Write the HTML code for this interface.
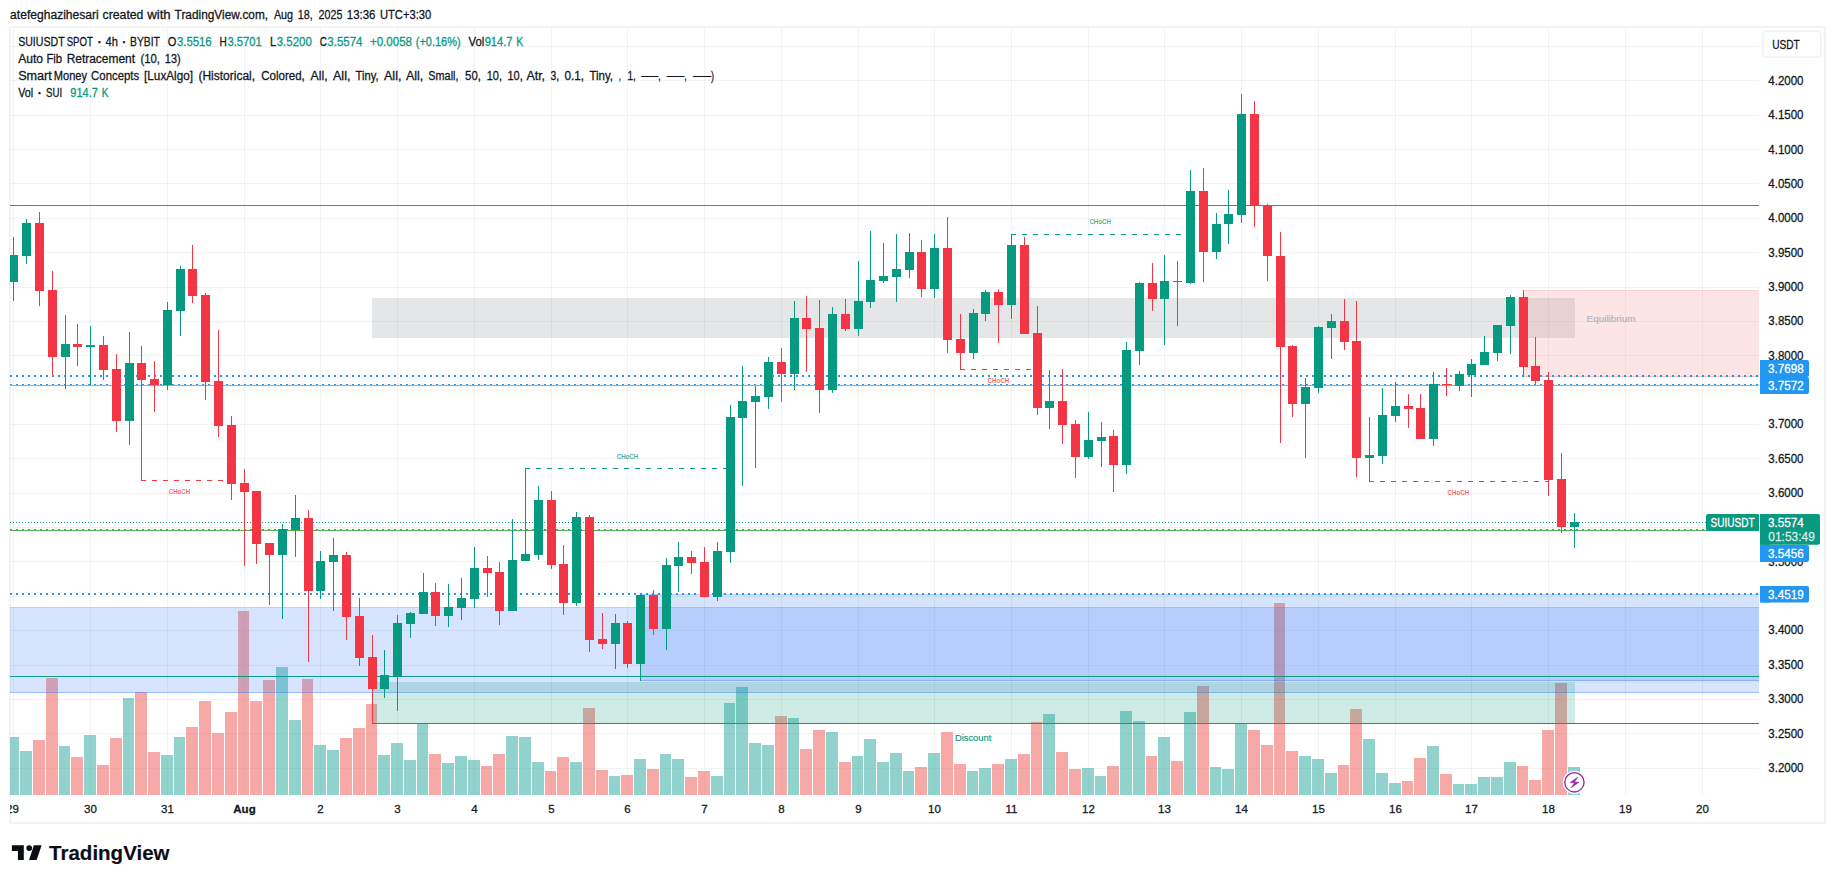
<!DOCTYPE html>
<html lang="en"><head><meta charset="utf-8"><title>SUIUSDT chart</title>
<style>html,body{margin:0;padding:0;background:#fff;overflow:hidden}svg{display:block}text{font-family:"Liberation Sans",sans-serif;fill:#131722;stroke:#131722;stroke-width:.28px}</style></head><body>
<svg width="1835" height="883" viewBox="0 0 1835 883">
<rect width="1835" height="883" fill="#fff"/>
<g fill="#f3f3f4" shape-rendering="crispEdges">
<rect x="9" y="26" width="1817" height="2"/>
<rect x="9" y="822" width="1817" height="2"/>
<rect x="9" y="26" width="2" height="798"/>
<rect x="1824" y="26" width="2" height="798"/>
</g>
<defs><clipPath id="pane"><rect x="10" y="28" width="1749" height="767"/></clipPath></defs>
<g fill="rgba(42,56,57,0.058)" shape-rendering="crispEdges">
<rect x="13" y="28" width="1" height="767"/>
<rect x="90" y="28" width="1" height="767"/>
<rect x="167" y="28" width="1" height="767"/>
<rect x="244" y="28" width="1" height="767"/>
<rect x="320" y="28" width="1" height="767"/>
<rect x="397" y="28" width="1" height="767"/>
<rect x="474" y="28" width="1" height="767"/>
<rect x="551" y="28" width="1" height="767"/>
<rect x="627" y="28" width="1" height="767"/>
<rect x="704" y="28" width="1" height="767"/>
<rect x="781" y="28" width="1" height="767"/>
<rect x="858" y="28" width="1" height="767"/>
<rect x="934" y="28" width="1" height="767"/>
<rect x="1011" y="28" width="1" height="767"/>
<rect x="1088" y="28" width="1" height="767"/>
<rect x="1164" y="28" width="1" height="767"/>
<rect x="1241" y="28" width="1" height="767"/>
<rect x="1318" y="28" width="1" height="767"/>
<rect x="1395" y="28" width="1" height="767"/>
<rect x="1471" y="28" width="1" height="767"/>
<rect x="1548" y="28" width="1" height="767"/>
<rect x="1625" y="28" width="1" height="767"/>
<rect x="1702" y="28" width="1" height="767"/>
<rect x="10" y="46" width="1749" height="1"/>
<rect x="10" y="80" width="1749" height="1"/>
<rect x="10" y="115" width="1749" height="1"/>
<rect x="10" y="149" width="1749" height="1"/>
<rect x="10" y="183" width="1749" height="1"/>
<rect x="10" y="218" width="1749" height="1"/>
<rect x="10" y="252" width="1749" height="1"/>
<rect x="10" y="287" width="1749" height="1"/>
<rect x="10" y="321" width="1749" height="1"/>
<rect x="10" y="355" width="1749" height="1"/>
<rect x="10" y="390" width="1749" height="1"/>
<rect x="10" y="424" width="1749" height="1"/>
<rect x="10" y="458" width="1749" height="1"/>
<rect x="10" y="493" width="1749" height="1"/>
<rect x="10" y="527" width="1749" height="1"/>
<rect x="10" y="561" width="1749" height="1"/>
<rect x="10" y="596" width="1749" height="1"/>
<rect x="10" y="630" width="1749" height="1"/>
<rect x="10" y="665" width="1749" height="1"/>
<rect x="10" y="699" width="1749" height="1"/>
<rect x="10" y="733" width="1749" height="1"/>
<rect x="10" y="768" width="1749" height="1"/>
</g>
<g clip-path="url(#pane)">
<g shape-rendering="crispEdges">
<rect x="7" y="737" width="12" height="58" fill="rgba(38,166,154,0.5)"/>
<rect x="20" y="751" width="12" height="44" fill="rgba(38,166,154,0.5)"/>
<rect x="33" y="740" width="12" height="55" fill="rgba(239,83,80,0.5)"/>
<rect x="46" y="678" width="12" height="117" fill="rgba(239,83,80,0.5)"/>
<rect x="59" y="746" width="11" height="49" fill="rgba(38,166,154,0.5)"/>
<rect x="71" y="757" width="12" height="38" fill="rgba(239,83,80,0.5)"/>
<rect x="84" y="735" width="12" height="60" fill="rgba(38,166,154,0.5)"/>
<rect x="97" y="765" width="12" height="30" fill="rgba(239,83,80,0.5)"/>
<rect x="110" y="738" width="12" height="57" fill="rgba(239,83,80,0.5)"/>
<rect x="123" y="698" width="11" height="97" fill="rgba(38,166,154,0.5)"/>
<rect x="135" y="692" width="12" height="103" fill="rgba(239,83,80,0.5)"/>
<rect x="148" y="752" width="12" height="43" fill="rgba(239,83,80,0.5)"/>
<rect x="161" y="755" width="12" height="40" fill="rgba(38,166,154,0.5)"/>
<rect x="174" y="737" width="11" height="58" fill="rgba(38,166,154,0.5)"/>
<rect x="186" y="727" width="12" height="68" fill="rgba(239,83,80,0.5)"/>
<rect x="199" y="701" width="12" height="94" fill="rgba(239,83,80,0.5)"/>
<rect x="212" y="733" width="12" height="62" fill="rgba(239,83,80,0.5)"/>
<rect x="225" y="712" width="12" height="83" fill="rgba(239,83,80,0.5)"/>
<rect x="238" y="611" width="11" height="184" fill="rgba(239,83,80,0.5)"/>
<rect x="250" y="701" width="12" height="94" fill="rgba(239,83,80,0.5)"/>
<rect x="263" y="680" width="12" height="115" fill="rgba(239,83,80,0.5)"/>
<rect x="276" y="667" width="12" height="128" fill="rgba(38,166,154,0.5)"/>
<rect x="289" y="720" width="12" height="75" fill="rgba(38,166,154,0.5)"/>
<rect x="302" y="679" width="11" height="116" fill="rgba(239,83,80,0.5)"/>
<rect x="314" y="745" width="12" height="50" fill="rgba(38,166,154,0.5)"/>
<rect x="327" y="750" width="12" height="45" fill="rgba(38,166,154,0.5)"/>
<rect x="340" y="738" width="12" height="57" fill="rgba(239,83,80,0.5)"/>
<rect x="353" y="728" width="12" height="67" fill="rgba(239,83,80,0.5)"/>
<rect x="366" y="704" width="11" height="91" fill="rgba(239,83,80,0.5)"/>
<rect x="378" y="755" width="12" height="40" fill="rgba(38,166,154,0.5)"/>
<rect x="391" y="743" width="12" height="52" fill="rgba(38,166,154,0.5)"/>
<rect x="404" y="760" width="12" height="35" fill="rgba(38,166,154,0.5)"/>
<rect x="417" y="723" width="11" height="72" fill="rgba(38,166,154,0.5)"/>
<rect x="429" y="754" width="12" height="41" fill="rgba(239,83,80,0.5)"/>
<rect x="442" y="763" width="12" height="32" fill="rgba(38,166,154,0.5)"/>
<rect x="455" y="756" width="12" height="39" fill="rgba(38,166,154,0.5)"/>
<rect x="468" y="760" width="12" height="35" fill="rgba(38,166,154,0.5)"/>
<rect x="481" y="766" width="11" height="29" fill="rgba(239,83,80,0.5)"/>
<rect x="493" y="754" width="12" height="41" fill="rgba(239,83,80,0.5)"/>
<rect x="506" y="736" width="12" height="59" fill="rgba(38,166,154,0.5)"/>
<rect x="519" y="737" width="12" height="58" fill="rgba(38,166,154,0.5)"/>
<rect x="532" y="762" width="12" height="33" fill="rgba(38,166,154,0.5)"/>
<rect x="545" y="771" width="11" height="24" fill="rgba(239,83,80,0.5)"/>
<rect x="557" y="757" width="12" height="38" fill="rgba(239,83,80,0.5)"/>
<rect x="570" y="762" width="12" height="33" fill="rgba(38,166,154,0.5)"/>
<rect x="583" y="708" width="12" height="87" fill="rgba(239,83,80,0.5)"/>
<rect x="596" y="770" width="12" height="25" fill="rgba(239,83,80,0.5)"/>
<rect x="609" y="776" width="11" height="19" fill="rgba(38,166,154,0.5)"/>
<rect x="621" y="775" width="12" height="20" fill="rgba(239,83,80,0.5)"/>
<rect x="634" y="759" width="12" height="36" fill="rgba(38,166,154,0.5)"/>
<rect x="647" y="769" width="12" height="26" fill="rgba(239,83,80,0.5)"/>
<rect x="660" y="754" width="11" height="41" fill="rgba(38,166,154,0.5)"/>
<rect x="672" y="759" width="12" height="36" fill="rgba(38,166,154,0.5)"/>
<rect x="685" y="777" width="12" height="18" fill="rgba(239,83,80,0.5)"/>
<rect x="698" y="771" width="12" height="24" fill="rgba(239,83,80,0.5)"/>
<rect x="711" y="776" width="12" height="19" fill="rgba(38,166,154,0.5)"/>
<rect x="724" y="703" width="11" height="92" fill="rgba(38,166,154,0.5)"/>
<rect x="736" y="687" width="12" height="108" fill="rgba(38,166,154,0.5)"/>
<rect x="749" y="743" width="12" height="52" fill="rgba(38,166,154,0.5)"/>
<rect x="762" y="745" width="12" height="50" fill="rgba(38,166,154,0.5)"/>
<rect x="775" y="716" width="12" height="79" fill="rgba(239,83,80,0.5)"/>
<rect x="788" y="718" width="11" height="77" fill="rgba(38,166,154,0.5)"/>
<rect x="800" y="749" width="12" height="46" fill="rgba(239,83,80,0.5)"/>
<rect x="813" y="730" width="12" height="65" fill="rgba(239,83,80,0.5)"/>
<rect x="826" y="732" width="12" height="63" fill="rgba(38,166,154,0.5)"/>
<rect x="839" y="762" width="12" height="33" fill="rgba(239,83,80,0.5)"/>
<rect x="852" y="756" width="11" height="39" fill="rgba(38,166,154,0.5)"/>
<rect x="864" y="739" width="12" height="56" fill="rgba(38,166,154,0.5)"/>
<rect x="877" y="762" width="12" height="33" fill="rgba(38,166,154,0.5)"/>
<rect x="890" y="753" width="12" height="42" fill="rgba(38,166,154,0.5)"/>
<rect x="903" y="771" width="11" height="24" fill="rgba(38,166,154,0.5)"/>
<rect x="915" y="767" width="12" height="28" fill="rgba(239,83,80,0.5)"/>
<rect x="928" y="753" width="12" height="42" fill="rgba(38,166,154,0.5)"/>
<rect x="941" y="732" width="12" height="63" fill="rgba(239,83,80,0.5)"/>
<rect x="954" y="764" width="12" height="31" fill="rgba(239,83,80,0.5)"/>
<rect x="967" y="771" width="11" height="24" fill="rgba(38,166,154,0.5)"/>
<rect x="979" y="768" width="12" height="27" fill="rgba(38,166,154,0.5)"/>
<rect x="992" y="764" width="12" height="31" fill="rgba(239,83,80,0.5)"/>
<rect x="1005" y="759" width="12" height="36" fill="rgba(38,166,154,0.5)"/>
<rect x="1018" y="754" width="12" height="41" fill="rgba(239,83,80,0.5)"/>
<rect x="1031" y="722" width="11" height="73" fill="rgba(239,83,80,0.5)"/>
<rect x="1043" y="714" width="12" height="81" fill="rgba(38,166,154,0.5)"/>
<rect x="1056" y="752" width="12" height="43" fill="rgba(239,83,80,0.5)"/>
<rect x="1069" y="769" width="12" height="26" fill="rgba(239,83,80,0.5)"/>
<rect x="1082" y="768" width="12" height="27" fill="rgba(38,166,154,0.5)"/>
<rect x="1095" y="776" width="11" height="19" fill="rgba(38,166,154,0.5)"/>
<rect x="1107" y="766" width="12" height="29" fill="rgba(239,83,80,0.5)"/>
<rect x="1120" y="711" width="12" height="84" fill="rgba(38,166,154,0.5)"/>
<rect x="1133" y="721" width="12" height="74" fill="rgba(38,166,154,0.5)"/>
<rect x="1146" y="756" width="11" height="39" fill="rgba(239,83,80,0.5)"/>
<rect x="1158" y="737" width="12" height="58" fill="rgba(38,166,154,0.5)"/>
<rect x="1171" y="761" width="12" height="34" fill="rgba(239,83,80,0.5)"/>
<rect x="1184" y="712" width="12" height="83" fill="rgba(38,166,154,0.5)"/>
<rect x="1197" y="686" width="12" height="109" fill="rgba(239,83,80,0.5)"/>
<rect x="1210" y="767" width="11" height="28" fill="rgba(38,166,154,0.5)"/>
<rect x="1222" y="769" width="12" height="26" fill="rgba(38,166,154,0.5)"/>
<rect x="1235" y="723" width="12" height="72" fill="rgba(38,166,154,0.5)"/>
<rect x="1248" y="730" width="12" height="65" fill="rgba(239,83,80,0.5)"/>
<rect x="1261" y="745" width="12" height="50" fill="rgba(239,83,80,0.5)"/>
<rect x="1274" y="603" width="11" height="192" fill="rgba(239,83,80,0.5)"/>
<rect x="1286" y="751" width="12" height="44" fill="rgba(239,83,80,0.5)"/>
<rect x="1299" y="756" width="12" height="39" fill="rgba(38,166,154,0.5)"/>
<rect x="1312" y="759" width="12" height="36" fill="rgba(38,166,154,0.5)"/>
<rect x="1325" y="773" width="12" height="22" fill="rgba(38,166,154,0.5)"/>
<rect x="1338" y="765" width="11" height="30" fill="rgba(239,83,80,0.5)"/>
<rect x="1350" y="709" width="12" height="86" fill="rgba(239,83,80,0.5)"/>
<rect x="1363" y="739" width="12" height="56" fill="rgba(38,166,154,0.5)"/>
<rect x="1376" y="773" width="12" height="22" fill="rgba(38,166,154,0.5)"/>
<rect x="1389" y="783" width="12" height="12" fill="rgba(38,166,154,0.5)"/>
<rect x="1402" y="781" width="11" height="14" fill="rgba(239,83,80,0.5)"/>
<rect x="1414" y="758" width="12" height="37" fill="rgba(239,83,80,0.5)"/>
<rect x="1427" y="746" width="12" height="49" fill="rgba(38,166,154,0.5)"/>
<rect x="1440" y="774" width="12" height="21" fill="rgba(239,83,80,0.5)"/>
<rect x="1453" y="784" width="11" height="11" fill="rgba(38,166,154,0.5)"/>
<rect x="1465" y="784" width="12" height="11" fill="rgba(38,166,154,0.5)"/>
<rect x="1478" y="777" width="12" height="18" fill="rgba(38,166,154,0.5)"/>
<rect x="1491" y="777" width="12" height="18" fill="rgba(38,166,154,0.5)"/>
<rect x="1504" y="762" width="12" height="33" fill="rgba(38,166,154,0.5)"/>
<rect x="1517" y="766" width="11" height="29" fill="rgba(239,83,80,0.5)"/>
<rect x="1529" y="780" width="12" height="15" fill="rgba(239,83,80,0.5)"/>
<rect x="1542" y="730" width="12" height="65" fill="rgba(239,83,80,0.5)"/>
<rect x="1555" y="683" width="12" height="112" fill="rgba(239,83,80,0.5)"/>
<rect x="1568" y="767" width="12" height="28" fill="rgba(38,166,154,0.5)"/>
</g>
<g shape-rendering="crispEdges">
<rect x="372" y="298" width="1203" height="40" fill="rgba(135,139,148,0.22)"/>
<rect x="1523.5" y="290.5" width="240" height="86" fill="rgba(247,124,128,0.2)" stroke="rgba(247,124,128,0.35)" stroke-width="1"/>
<rect x="0.5" y="607.5" width="1765" height="85" fill="rgba(49,121,245,0.2)" stroke="rgba(49,121,245,0.35)" stroke-width="1"/>
<rect x="640.5" y="594.5" width="1125" height="86" fill="rgba(49,121,245,0.2)" stroke="rgba(49,121,245,0.35)" stroke-width="1"/>
<rect x="372" y="682" width="1203" height="41" fill="rgba(8,153,129,0.2)"/>
</g>
<g shape-rendering="crispEdges">
<rect x="10" y="205" width="1749" height="1" fill="#f44336"/>
<rect x="10" y="676" width="1749" height="1" fill="#0e9a89"/>
<rect x="372" y="723" width="1387" height="1" fill="#0e9a89"/>
<rect x="10" y="385" width="1749" height="1" fill="#7cc47f"/>
<rect x="10" y="530" width="1749" height="1" fill="#52b156"/>
</g>
<line x1="10" x2="1759" y1="376" y2="376" stroke="#2196f3" stroke-width="2" stroke-dasharray="2 4"/>
<line x1="10" x2="1759" y1="594" y2="594" stroke="#2196f3" stroke-width="2" stroke-dasharray="2 4"/>
<line x1="10" x2="1759" y1="384.5" y2="384.5" stroke="#2196f3" stroke-width="1" stroke-dasharray="2 4"/>
<line x1="10" x2="1759" y1="529.5" y2="529.5" stroke="#2196f3" stroke-width="1" stroke-dasharray="2 4"/>
<line x1="10" x2="1706" y1="522.5" y2="522.5" stroke="#089981" stroke-width="1" stroke-dasharray="1 2"/>
<line x1="141" x2="231" y1="480.5" y2="480.5" stroke="#f23645" stroke-width="1" stroke-dasharray="5 6"/>
<line x1="525" x2="729" y1="468.5" y2="468.5" stroke="#089981" stroke-width="1" stroke-dasharray="5 6"/>
<line x1="960" x2="1034" y1="369.5" y2="369.5" stroke="#f23645" stroke-width="1" stroke-dasharray="5 6"/>
<line x1="1011" x2="1186" y1="234.5" y2="234.5" stroke="#089981" stroke-width="1" stroke-dasharray="5 6"/>
<line x1="1369" x2="1549" y1="481.5" y2="481.5" stroke="#f23645" stroke-width="1" stroke-dasharray="5 6"/>
<g shape-rendering="crispEdges">
<rect x="13" y="237" width="1" height="64" fill="#089981"/>
<rect x="9" y="255" width="9" height="27" fill="#089981"/>
<rect x="26" y="219" width="1" height="45" fill="#089981"/>
<rect x="22" y="223" width="9" height="33" fill="#089981"/>
<rect x="39" y="212" width="1" height="94" fill="#f23645"/>
<rect x="35" y="223" width="9" height="68" fill="#f23645"/>
<rect x="52" y="271" width="1" height="105" fill="#f23645"/>
<rect x="48" y="290" width="9" height="67" fill="#f23645"/>
<rect x="65" y="315" width="1" height="74" fill="#089981"/>
<rect x="61" y="344" width="9" height="13" fill="#089981"/>
<rect x="77" y="324" width="1" height="42" fill="#f23645"/>
<rect x="73" y="344" width="9" height="3" fill="#f23645"/>
<rect x="90" y="326" width="1" height="59" fill="#089981"/>
<rect x="86" y="345" width="9" height="2" fill="#089981"/>
<rect x="103" y="336" width="1" height="44" fill="#f23645"/>
<rect x="99" y="345" width="9" height="25" fill="#f23645"/>
<rect x="116" y="354" width="1" height="78" fill="#f23645"/>
<rect x="112" y="369" width="9" height="52" fill="#f23645"/>
<rect x="129" y="332" width="1" height="113" fill="#089981"/>
<rect x="125" y="363" width="9" height="58" fill="#089981"/>
<rect x="141" y="346" width="1" height="135" fill="#f23645"/>
<rect x="137" y="363" width="9" height="17" fill="#f23645"/>
<rect x="154" y="361" width="1" height="51" fill="#f23645"/>
<rect x="150" y="379" width="9" height="6" fill="#f23645"/>
<rect x="167" y="302" width="1" height="88" fill="#089981"/>
<rect x="163" y="310" width="9" height="75" fill="#089981"/>
<rect x="180" y="266" width="1" height="70" fill="#089981"/>
<rect x="176" y="269" width="9" height="42" fill="#089981"/>
<rect x="192" y="245" width="1" height="58" fill="#f23645"/>
<rect x="188" y="269" width="9" height="27" fill="#f23645"/>
<rect x="205" y="293" width="1" height="107" fill="#f23645"/>
<rect x="201" y="295" width="9" height="87" fill="#f23645"/>
<rect x="218" y="330" width="1" height="107" fill="#f23645"/>
<rect x="214" y="381" width="9" height="45" fill="#f23645"/>
<rect x="231" y="416" width="1" height="84" fill="#f23645"/>
<rect x="227" y="425" width="9" height="59" fill="#f23645"/>
<rect x="244" y="469" width="1" height="97" fill="#f23645"/>
<rect x="240" y="483" width="9" height="9" fill="#f23645"/>
<rect x="256" y="491" width="1" height="73" fill="#f23645"/>
<rect x="252" y="491" width="9" height="53" fill="#f23645"/>
<rect x="269" y="543" width="1" height="62" fill="#f23645"/>
<rect x="265" y="543" width="9" height="12" fill="#f23645"/>
<rect x="282" y="524" width="1" height="95" fill="#089981"/>
<rect x="278" y="529" width="9" height="26" fill="#089981"/>
<rect x="295" y="495" width="1" height="62" fill="#089981"/>
<rect x="291" y="518" width="9" height="12" fill="#089981"/>
<rect x="308" y="510" width="1" height="152" fill="#f23645"/>
<rect x="304" y="518" width="9" height="73" fill="#f23645"/>
<rect x="320" y="551" width="1" height="48" fill="#089981"/>
<rect x="316" y="561" width="9" height="30" fill="#089981"/>
<rect x="333" y="538" width="1" height="73" fill="#089981"/>
<rect x="329" y="555" width="9" height="7" fill="#089981"/>
<rect x="346" y="552" width="1" height="88" fill="#f23645"/>
<rect x="342" y="555" width="9" height="62" fill="#f23645"/>
<rect x="359" y="598" width="1" height="68" fill="#f23645"/>
<rect x="355" y="616" width="9" height="42" fill="#f23645"/>
<rect x="372" y="635" width="1" height="88" fill="#f23645"/>
<rect x="368" y="657" width="9" height="32" fill="#f23645"/>
<rect x="384" y="650" width="1" height="48" fill="#089981"/>
<rect x="380" y="675" width="9" height="14" fill="#089981"/>
<rect x="397" y="615" width="1" height="96" fill="#089981"/>
<rect x="393" y="623" width="9" height="53" fill="#089981"/>
<rect x="410" y="612" width="1" height="26" fill="#089981"/>
<rect x="406" y="613" width="9" height="11" fill="#089981"/>
<rect x="423" y="573" width="1" height="41" fill="#089981"/>
<rect x="419" y="592" width="9" height="22" fill="#089981"/>
<rect x="435" y="583" width="1" height="43" fill="#f23645"/>
<rect x="431" y="592" width="9" height="24" fill="#f23645"/>
<rect x="448" y="584" width="1" height="43" fill="#089981"/>
<rect x="444" y="607" width="9" height="9" fill="#089981"/>
<rect x="461" y="578" width="1" height="42" fill="#089981"/>
<rect x="457" y="598" width="9" height="10" fill="#089981"/>
<rect x="474" y="547" width="1" height="61" fill="#089981"/>
<rect x="470" y="568" width="9" height="31" fill="#089981"/>
<rect x="487" y="556" width="1" height="41" fill="#f23645"/>
<rect x="483" y="568" width="9" height="5" fill="#f23645"/>
<rect x="499" y="562" width="1" height="63" fill="#f23645"/>
<rect x="495" y="572" width="9" height="39" fill="#f23645"/>
<rect x="512" y="519" width="1" height="92" fill="#089981"/>
<rect x="508" y="560" width="9" height="51" fill="#089981"/>
<rect x="525" y="468" width="1" height="93" fill="#089981"/>
<rect x="521" y="554" width="9" height="7" fill="#089981"/>
<rect x="538" y="486" width="1" height="74" fill="#089981"/>
<rect x="534" y="500" width="9" height="55" fill="#089981"/>
<rect x="551" y="491" width="1" height="78" fill="#f23645"/>
<rect x="547" y="500" width="9" height="65" fill="#f23645"/>
<rect x="563" y="545" width="1" height="70" fill="#f23645"/>
<rect x="559" y="564" width="9" height="39" fill="#f23645"/>
<rect x="576" y="512" width="1" height="94" fill="#089981"/>
<rect x="572" y="517" width="9" height="86" fill="#089981"/>
<rect x="589" y="515" width="1" height="137" fill="#f23645"/>
<rect x="585" y="517" width="9" height="123" fill="#f23645"/>
<rect x="602" y="613" width="1" height="36" fill="#f23645"/>
<rect x="598" y="639" width="9" height="5" fill="#f23645"/>
<rect x="615" y="614" width="1" height="55" fill="#089981"/>
<rect x="611" y="623" width="9" height="21" fill="#089981"/>
<rect x="627" y="621" width="1" height="47" fill="#f23645"/>
<rect x="623" y="623" width="9" height="41" fill="#f23645"/>
<rect x="640" y="595" width="1" height="86" fill="#089981"/>
<rect x="636" y="595" width="9" height="69" fill="#089981"/>
<rect x="653" y="590" width="1" height="45" fill="#f23645"/>
<rect x="649" y="595" width="9" height="34" fill="#f23645"/>
<rect x="666" y="558" width="1" height="92" fill="#089981"/>
<rect x="662" y="565" width="9" height="64" fill="#089981"/>
<rect x="678" y="542" width="1" height="50" fill="#089981"/>
<rect x="674" y="557" width="9" height="9" fill="#089981"/>
<rect x="691" y="551" width="1" height="23" fill="#f23645"/>
<rect x="687" y="557" width="9" height="6" fill="#f23645"/>
<rect x="704" y="547" width="1" height="50" fill="#f23645"/>
<rect x="700" y="562" width="9" height="35" fill="#f23645"/>
<rect x="717" y="542" width="1" height="59" fill="#089981"/>
<rect x="713" y="551" width="9" height="46" fill="#089981"/>
<rect x="730" y="405" width="1" height="158" fill="#089981"/>
<rect x="726" y="417" width="9" height="135" fill="#089981"/>
<rect x="742" y="366" width="1" height="120" fill="#089981"/>
<rect x="738" y="401" width="9" height="17" fill="#089981"/>
<rect x="755" y="386" width="1" height="82" fill="#089981"/>
<rect x="751" y="396" width="9" height="6" fill="#089981"/>
<rect x="768" y="357" width="1" height="52" fill="#089981"/>
<rect x="764" y="362" width="9" height="35" fill="#089981"/>
<rect x="781" y="348" width="1" height="54" fill="#f23645"/>
<rect x="777" y="362" width="9" height="12" fill="#f23645"/>
<rect x="794" y="301" width="1" height="89" fill="#089981"/>
<rect x="790" y="318" width="9" height="56" fill="#089981"/>
<rect x="806" y="296" width="1" height="76" fill="#f23645"/>
<rect x="802" y="318" width="9" height="11" fill="#f23645"/>
<rect x="819" y="300" width="1" height="113" fill="#f23645"/>
<rect x="815" y="328" width="9" height="62" fill="#f23645"/>
<rect x="832" y="307" width="1" height="86" fill="#089981"/>
<rect x="828" y="314" width="9" height="76" fill="#089981"/>
<rect x="845" y="299" width="1" height="32" fill="#f23645"/>
<rect x="841" y="314" width="9" height="15" fill="#f23645"/>
<rect x="858" y="261" width="1" height="75" fill="#089981"/>
<rect x="854" y="301" width="9" height="28" fill="#089981"/>
<rect x="870" y="231" width="1" height="77" fill="#089981"/>
<rect x="866" y="280" width="9" height="22" fill="#089981"/>
<rect x="883" y="243" width="1" height="40" fill="#089981"/>
<rect x="879" y="276" width="9" height="5" fill="#089981"/>
<rect x="896" y="234" width="1" height="68" fill="#089981"/>
<rect x="892" y="269" width="9" height="8" fill="#089981"/>
<rect x="909" y="233" width="1" height="45" fill="#089981"/>
<rect x="905" y="252" width="9" height="18" fill="#089981"/>
<rect x="921" y="240" width="1" height="57" fill="#f23645"/>
<rect x="917" y="252" width="9" height="37" fill="#f23645"/>
<rect x="934" y="234" width="1" height="64" fill="#089981"/>
<rect x="930" y="248" width="9" height="41" fill="#089981"/>
<rect x="947" y="217" width="1" height="136" fill="#f23645"/>
<rect x="943" y="248" width="9" height="92" fill="#f23645"/>
<rect x="960" y="314" width="1" height="55" fill="#f23645"/>
<rect x="956" y="339" width="9" height="14" fill="#f23645"/>
<rect x="973" y="309" width="1" height="50" fill="#089981"/>
<rect x="969" y="313" width="9" height="40" fill="#089981"/>
<rect x="985" y="290" width="1" height="31" fill="#089981"/>
<rect x="981" y="292" width="9" height="22" fill="#089981"/>
<rect x="998" y="289" width="1" height="54" fill="#f23645"/>
<rect x="994" y="292" width="9" height="13" fill="#f23645"/>
<rect x="1011" y="234" width="1" height="85" fill="#089981"/>
<rect x="1007" y="245" width="9" height="60" fill="#089981"/>
<rect x="1024" y="237" width="1" height="97" fill="#f23645"/>
<rect x="1020" y="245" width="9" height="89" fill="#f23645"/>
<rect x="1037" y="306" width="1" height="109" fill="#f23645"/>
<rect x="1033" y="333" width="9" height="75" fill="#f23645"/>
<rect x="1049" y="370" width="1" height="59" fill="#089981"/>
<rect x="1045" y="401" width="9" height="7" fill="#089981"/>
<rect x="1062" y="369" width="1" height="75" fill="#f23645"/>
<rect x="1058" y="401" width="9" height="24" fill="#f23645"/>
<rect x="1075" y="420" width="1" height="58" fill="#f23645"/>
<rect x="1071" y="424" width="9" height="33" fill="#f23645"/>
<rect x="1088" y="412" width="1" height="47" fill="#089981"/>
<rect x="1084" y="440" width="9" height="17" fill="#089981"/>
<rect x="1101" y="422" width="1" height="45" fill="#089981"/>
<rect x="1097" y="437" width="9" height="4" fill="#089981"/>
<rect x="1113" y="430" width="1" height="62" fill="#f23645"/>
<rect x="1109" y="436" width="9" height="29" fill="#f23645"/>
<rect x="1126" y="342" width="1" height="132" fill="#089981"/>
<rect x="1122" y="350" width="9" height="115" fill="#089981"/>
<rect x="1139" y="282" width="1" height="83" fill="#089981"/>
<rect x="1135" y="283" width="9" height="68" fill="#089981"/>
<rect x="1152" y="263" width="1" height="48" fill="#f23645"/>
<rect x="1148" y="283" width="9" height="16" fill="#f23645"/>
<rect x="1164" y="255" width="1" height="90" fill="#089981"/>
<rect x="1160" y="281" width="9" height="18" fill="#089981"/>
<rect x="1177" y="261" width="1" height="65" fill="#f23645"/>
<rect x="1173" y="281" width="9" height="1" fill="#f23645"/>
<rect x="1190" y="170" width="1" height="114" fill="#089981"/>
<rect x="1186" y="191" width="9" height="92" fill="#089981"/>
<rect x="1203" y="168" width="1" height="114" fill="#f23645"/>
<rect x="1199" y="191" width="9" height="61" fill="#f23645"/>
<rect x="1216" y="213" width="1" height="46" fill="#089981"/>
<rect x="1212" y="224" width="9" height="28" fill="#089981"/>
<rect x="1228" y="190" width="1" height="54" fill="#089981"/>
<rect x="1224" y="214" width="9" height="10" fill="#089981"/>
<rect x="1241" y="94" width="1" height="129" fill="#089981"/>
<rect x="1237" y="114" width="9" height="101" fill="#089981"/>
<rect x="1254" y="101" width="1" height="126" fill="#f23645"/>
<rect x="1250" y="114" width="9" height="92" fill="#f23645"/>
<rect x="1267" y="204" width="1" height="77" fill="#f23645"/>
<rect x="1263" y="205" width="9" height="51" fill="#f23645"/>
<rect x="1280" y="232" width="1" height="211" fill="#f23645"/>
<rect x="1276" y="256" width="9" height="91" fill="#f23645"/>
<rect x="1292" y="345" width="1" height="72" fill="#f23645"/>
<rect x="1288" y="346" width="9" height="58" fill="#f23645"/>
<rect x="1305" y="378" width="1" height="80" fill="#089981"/>
<rect x="1301" y="387" width="9" height="17" fill="#089981"/>
<rect x="1318" y="326" width="1" height="67" fill="#089981"/>
<rect x="1314" y="327" width="9" height="61" fill="#089981"/>
<rect x="1331" y="314" width="1" height="45" fill="#089981"/>
<rect x="1327" y="321" width="9" height="7" fill="#089981"/>
<rect x="1344" y="299" width="1" height="51" fill="#f23645"/>
<rect x="1340" y="321" width="9" height="21" fill="#f23645"/>
<rect x="1356" y="301" width="1" height="176" fill="#f23645"/>
<rect x="1352" y="341" width="9" height="117" fill="#f23645"/>
<rect x="1369" y="417" width="1" height="64" fill="#089981"/>
<rect x="1365" y="455" width="9" height="3" fill="#089981"/>
<rect x="1382" y="388" width="1" height="76" fill="#089981"/>
<rect x="1378" y="415" width="9" height="41" fill="#089981"/>
<rect x="1395" y="382" width="1" height="40" fill="#089981"/>
<rect x="1391" y="406" width="9" height="10" fill="#089981"/>
<rect x="1408" y="394" width="1" height="34" fill="#f23645"/>
<rect x="1404" y="406" width="9" height="3" fill="#f23645"/>
<rect x="1420" y="394" width="1" height="45" fill="#f23645"/>
<rect x="1416" y="408" width="9" height="31" fill="#f23645"/>
<rect x="1433" y="372" width="1" height="74" fill="#089981"/>
<rect x="1429" y="384" width="9" height="55" fill="#089981"/>
<rect x="1446" y="368" width="1" height="28" fill="#f23645"/>
<rect x="1442" y="384" width="9" height="1" fill="#f23645"/>
<rect x="1459" y="371" width="1" height="20" fill="#089981"/>
<rect x="1455" y="374" width="9" height="12" fill="#089981"/>
<rect x="1471" y="359" width="1" height="38" fill="#089981"/>
<rect x="1467" y="364" width="9" height="11" fill="#089981"/>
<rect x="1484" y="336" width="1" height="29" fill="#089981"/>
<rect x="1480" y="352" width="9" height="13" fill="#089981"/>
<rect x="1497" y="325" width="1" height="36" fill="#089981"/>
<rect x="1493" y="325" width="9" height="28" fill="#089981"/>
<rect x="1510" y="295" width="1" height="59" fill="#089981"/>
<rect x="1506" y="297" width="9" height="29" fill="#089981"/>
<rect x="1523" y="290" width="1" height="86" fill="#f23645"/>
<rect x="1519" y="297" width="9" height="70" fill="#f23645"/>
<rect x="1535" y="337" width="1" height="47" fill="#f23645"/>
<rect x="1531" y="366" width="9" height="15" fill="#f23645"/>
<rect x="1548" y="372" width="1" height="124" fill="#f23645"/>
<rect x="1544" y="380" width="9" height="100" fill="#f23645"/>
<rect x="1561" y="453" width="1" height="80" fill="#f23645"/>
<rect x="1557" y="479" width="9" height="48" fill="#f23645"/>
<rect x="1574" y="513" width="1" height="35" fill="#089981"/>
<rect x="1570" y="522" width="9" height="5" fill="#089981"/>
</g>
<text x="179.5" y="494" text-anchor="middle" font-size="6.6" font-weight="bold" style="fill:rgba(242,54,69,0.78);stroke:none" textLength="21.6" lengthAdjust="spacingAndGlyphs">CHoCH</text>
<text x="627.5" y="459" text-anchor="middle" font-size="6.6" font-weight="bold" style="fill:rgba(8,153,129,0.78);stroke:none" textLength="21.6" lengthAdjust="spacingAndGlyphs">CHoCH</text>
<text x="998.4" y="383" text-anchor="middle" font-size="6.6" font-weight="bold" style="fill:rgba(242,54,69,0.78);stroke:none" textLength="21.6" lengthAdjust="spacingAndGlyphs">CHoCH</text>
<text x="1100.2" y="224" text-anchor="middle" font-size="6.6" font-weight="bold" style="fill:rgba(8,153,129,0.78);stroke:none" textLength="21.6" lengthAdjust="spacingAndGlyphs">CHoCH</text>
<text x="1458.4" y="495" text-anchor="middle" font-size="6.6" font-weight="bold" style="fill:rgba(242,54,69,0.78);stroke:none" textLength="21.6" lengthAdjust="spacingAndGlyphs">CHoCH</text>
<text x="954.9" y="741" font-size="9.3" style="fill:#089981;stroke:#089981;stroke-width:.15px" textLength="36.4" lengthAdjust="spacingAndGlyphs">Discount</text>
<text x="1586.6" y="322" font-size="9.3" style="fill:#aeb3c0;stroke:#aeb3c0;stroke-width:.15px" textLength="49" lengthAdjust="spacingAndGlyphs">Equilibrium</text>
<rect x="1706" y="514" width="53" height="17" rx="2.2" fill="#089981"/>
<rect x="1716" y="514" width="43" height="17" fill="#089981" shape-rendering="crispEdges"/>
<text x="1710.5" y="527" font-size="12" style="fill:#fff;stroke:#fff" textLength="44" lengthAdjust="spacingAndGlyphs">SUIUSDT</text>
<circle cx="1574.4" cy="782.3" r="11.6" fill="#fff"/>
<circle cx="1574.4" cy="782.3" r="9.65" fill="#fff" stroke="#9c27b0" stroke-width="1.4"/>
<path d="M1577.9 777 L1570.1 782.5 L1574.4 782.9 L1571.1 787.9 L1579 782.3 L1574.6 781.9 Z" fill="#9c27b0" stroke="#9c27b0" stroke-width="0.5" stroke-linejoin="round"/>
</g>
<g font-size="12">
<text x="1768.3" y="85" textLength="35.2" lengthAdjust="spacingAndGlyphs">4.2000</text>
<text x="1768.3" y="119" textLength="35.2" lengthAdjust="spacingAndGlyphs">4.1500</text>
<text x="1768.3" y="154" textLength="35.2" lengthAdjust="spacingAndGlyphs">4.1000</text>
<text x="1768.3" y="188" textLength="35.2" lengthAdjust="spacingAndGlyphs">4.0500</text>
<text x="1768.3" y="222" textLength="35.2" lengthAdjust="spacingAndGlyphs">4.0000</text>
<text x="1768.3" y="257" textLength="35.2" lengthAdjust="spacingAndGlyphs">3.9500</text>
<text x="1768.3" y="291" textLength="35.2" lengthAdjust="spacingAndGlyphs">3.9000</text>
<text x="1768.3" y="325" textLength="35.2" lengthAdjust="spacingAndGlyphs">3.8500</text>
<text x="1768.3" y="360" textLength="35.2" lengthAdjust="spacingAndGlyphs">3.8000</text>
<text x="1768.3" y="428" textLength="35.2" lengthAdjust="spacingAndGlyphs">3.7000</text>
<text x="1768.3" y="463" textLength="35.2" lengthAdjust="spacingAndGlyphs">3.6500</text>
<text x="1768.3" y="497" textLength="35.2" lengthAdjust="spacingAndGlyphs">3.6000</text>
<text x="1768.3" y="566" textLength="35.2" lengthAdjust="spacingAndGlyphs">3.5000</text>
<text x="1768.3" y="634" textLength="35.2" lengthAdjust="spacingAndGlyphs">3.4000</text>
<text x="1768.3" y="669" textLength="35.2" lengthAdjust="spacingAndGlyphs">3.3500</text>
<text x="1768.3" y="703" textLength="35.2" lengthAdjust="spacingAndGlyphs">3.3000</text>
<text x="1768.3" y="738" textLength="35.2" lengthAdjust="spacingAndGlyphs">3.2500</text>
<text x="1768.3" y="772" textLength="35.2" lengthAdjust="spacingAndGlyphs">3.2000</text>
</g>
<rect x="1762.8" y="31.2" width="58" height="26" rx="4" fill="#fff" stroke="#eceef2" stroke-width="1.2"/>
<text x="1772.3" y="48.8" font-size="12" textLength="27.4" lengthAdjust="spacingAndGlyphs">USDT</text>
<rect x="1760" y="360" width="49" height="17" rx="2" fill="#2196f3"/>
<rect x="1760" y="360" width="10" height="17" fill="#2196f3"/>
<text x="1768" y="373" font-size="12" style="fill:#fff;stroke:#fff" textLength="35.6" lengthAdjust="spacingAndGlyphs">3.7698</text>
<rect x="1760" y="377" width="49" height="16.9" rx="2" fill="#2196f3"/>
<rect x="1760" y="377" width="10" height="16.9" fill="#2196f3"/>
<text x="1768" y="390" font-size="12" style="fill:#fff;stroke:#fff" textLength="35.6" lengthAdjust="spacingAndGlyphs">3.7572</text>
<rect x="1760" y="545" width="49" height="16.9" rx="2" fill="#2196f3"/>
<rect x="1760" y="545" width="10" height="16.9" fill="#2196f3"/>
<text x="1768" y="558" font-size="12" style="fill:#fff;stroke:#fff" textLength="35.6" lengthAdjust="spacingAndGlyphs">3.5456</text>
<rect x="1760" y="586" width="49" height="16.5" rx="2" fill="#2196f3"/>
<rect x="1760" y="586" width="10" height="16.5" fill="#2196f3"/>
<text x="1768" y="598.7" font-size="12" style="fill:#fff;stroke:#fff" textLength="35.6" lengthAdjust="spacingAndGlyphs">3.4519</text>
<rect x="1760" y="514" width="60" height="30.8" rx="2" fill="#089981"/>
<rect x="1760" y="514" width="10" height="30.8" fill="#089981"/>
<text x="1768" y="527" font-size="12" style="fill:#fff;stroke:#fff" textLength="35.6" lengthAdjust="spacingAndGlyphs">3.5574</text>
<text x="1768.3" y="541" font-size="12" style="fill:rgba(255,255,255,0.8);stroke:rgba(255,255,255,0.8)" textLength="46.5" lengthAdjust="spacingAndGlyphs">01:53:49</text>
<g font-size="11.5" text-anchor="middle">
<text x="12.5" y="813">29</text>
<text x="90.5" y="813">30</text>
<text x="167.5" y="813">31</text>
<text x="244.5" y="813" font-weight="bold">Aug</text>
<text x="320.5" y="813">2</text>
<text x="397.5" y="813">3</text>
<text x="474.5" y="813">4</text>
<text x="551.5" y="813">5</text>
<text x="627.5" y="813">6</text>
<text x="704.5" y="813">7</text>
<text x="781.5" y="813">8</text>
<text x="858.5" y="813">9</text>
<text x="934.5" y="813">10</text>
<text x="1011.5" y="813">11</text>
<text x="1088.5" y="813">12</text>
<text x="1164.5" y="813">13</text>
<text x="1241.5" y="813">14</text>
<text x="1318.5" y="813">15</text>
<text x="1395.5" y="813">16</text>
<text x="1471.5" y="813">17</text>
<text x="1548.5" y="813">18</text>
<text x="1625.5" y="813">19</text>
<text x="1702.5" y="813">20</text>
</g>
<rect x="0" y="796" width="10" height="24" fill="#fff"/>
<g font-size="12">
<text x="10.1" y="19" textLength="88.7" lengthAdjust="spacingAndGlyphs">atefeghazihesari</text>
<text x="102.6" y="19" textLength="40.8" lengthAdjust="spacingAndGlyphs">created</text>
<text x="147.2" y="19" textLength="23.5" lengthAdjust="spacingAndGlyphs">with</text>
<text x="174.6" y="19" textLength="93.5" lengthAdjust="spacingAndGlyphs">TradingView.com,</text>
<text x="273.9" y="19" textLength="19.1" lengthAdjust="spacingAndGlyphs">Aug</text>
<text x="297.8" y="19" textLength="14.9" lengthAdjust="spacingAndGlyphs">18,</text>
<text x="318.5" y="19" textLength="23.9" lengthAdjust="spacingAndGlyphs">2025</text>
<text x="346.8" y="19" textLength="28.7" lengthAdjust="spacingAndGlyphs">13:36</text>
<text x="379.9" y="19" textLength="51.3" lengthAdjust="spacingAndGlyphs">UTC+3:30</text>
</g>
<g font-size="12">
<text x="18.2" y="46" textLength="46.4" lengthAdjust="spacingAndGlyphs">SUIUSDT</text>
<text x="66.7" y="46" textLength="26.1" lengthAdjust="spacingAndGlyphs">SPOT</text>
<text x="99.85" y="46" text-anchor="middle" font-weight="bold">·</text>
<text x="105.6" y="46" textLength="12.4" lengthAdjust="spacingAndGlyphs">4h</text>
<text x="124.25" y="46" text-anchor="middle" font-weight="bold">·</text>
<text x="130.0" y="46" textLength="29.9" lengthAdjust="spacingAndGlyphs">BYBIT</text>
<text x="167.8" y="46" textLength="8.6" lengthAdjust="spacingAndGlyphs">O</text>
<text x="176.9" y="46" textLength="34.8" lengthAdjust="spacingAndGlyphs" style="fill:#089981;stroke:#089981">3.5516</text>
<text x="219.6" y="46" textLength="7.3" lengthAdjust="spacingAndGlyphs">H</text>
<text x="227.4" y="46" textLength="34.4" lengthAdjust="spacingAndGlyphs" style="fill:#089981;stroke:#089981">3.5701</text>
<text x="270.1" y="46" textLength="6.2" lengthAdjust="spacingAndGlyphs">L</text>
<text x="276.7" y="46" textLength="35.2" lengthAdjust="spacingAndGlyphs" style="fill:#089981;stroke:#089981">3.5200</text>
<text x="319.8" y="46" textLength="7.2" lengthAdjust="spacingAndGlyphs">C</text>
<text x="327.3" y="46" textLength="35.2" lengthAdjust="spacingAndGlyphs" style="fill:#089981;stroke:#089981">3.5574</text>
<text x="369.9" y="46" textLength="42.1" lengthAdjust="spacingAndGlyphs" style="fill:#089981;stroke:#089981">+0.0058</text>
<text x="415.8" y="46" textLength="44.8" lengthAdjust="spacingAndGlyphs" style="fill:#089981;stroke:#089981">(+0.16%)</text>
<text x="468.5" y="46" textLength="15.8" lengthAdjust="spacingAndGlyphs">Vol</text>
<text x="484.7" y="46" textLength="27.7" lengthAdjust="spacingAndGlyphs" style="fill:#089981;stroke:#089981">914.7</text>
<text x="516.2" y="46" textLength="7.0" lengthAdjust="spacingAndGlyphs" style="fill:#089981;stroke:#089981">K</text>
</g>
<g font-size="12">
<text x="18.2" y="63" textLength="24.9" lengthAdjust="spacingAndGlyphs">Auto</text>
<text x="46.4" y="63" textLength="15.7" lengthAdjust="spacingAndGlyphs">Fib</text>
<text x="66.7" y="63" textLength="68.3" lengthAdjust="spacingAndGlyphs">Retracement</text>
<text x="140.4" y="63" textLength="19.5" lengthAdjust="spacingAndGlyphs">(10,</text>
<text x="164.8" y="63" textLength="15.8" lengthAdjust="spacingAndGlyphs">13)</text>
</g>
<g font-size="12">
<text x="18.2" y="80" textLength="33.6" lengthAdjust="spacingAndGlyphs">Smart</text>
<text x="53.8" y="80" textLength="33.2" lengthAdjust="spacingAndGlyphs">Money</text>
<text x="91.1" y="80" textLength="48.1" lengthAdjust="spacingAndGlyphs">Concepts</text>
<text x="144.1" y="80" textLength="48.9" lengthAdjust="spacingAndGlyphs">[LuxAlgo]</text>
<text x="198.4" y="80" textLength="56.7" lengthAdjust="spacingAndGlyphs">(Historical,</text>
<text x="261.3" y="80" textLength="43.5" lengthAdjust="spacingAndGlyphs">Colored,</text>
<text x="310.6" y="80" textLength="17.0" lengthAdjust="spacingAndGlyphs">All,</text>
<text x="333.0" y="80" textLength="17.4" lengthAdjust="spacingAndGlyphs">All,</text>
<text x="355.6" y="80" textLength="23.0" lengthAdjust="spacingAndGlyphs">Tiny,</text>
<text x="384.0" y="80" textLength="17.4" lengthAdjust="spacingAndGlyphs">All,</text>
<text x="405.9" y="80" textLength="17.4" lengthAdjust="spacingAndGlyphs">All,</text>
<text x="428.3" y="80" textLength="30.2" lengthAdjust="spacingAndGlyphs">Small,</text>
<text x="465.1" y="80" textLength="15.8" lengthAdjust="spacingAndGlyphs">50,</text>
<text x="486.7" y="80" textLength="15.3" lengthAdjust="spacingAndGlyphs">10,</text>
<text x="507.4" y="80" textLength="15.3" lengthAdjust="spacingAndGlyphs">10,</text>
<text x="526.4" y="80" textLength="18.7" lengthAdjust="spacingAndGlyphs">Atr,</text>
<text x="550.5" y="80" textLength="8.7" lengthAdjust="spacingAndGlyphs">3,</text>
<text x="564.5" y="80" textLength="19.5" lengthAdjust="spacingAndGlyphs">0.1,</text>
<text x="589.4" y="80" textLength="23.6" lengthAdjust="spacingAndGlyphs">Tiny,</text>
<text x="618.8" y="80" textLength="2.1" lengthAdjust="spacingAndGlyphs">,</text>
<text x="627.5" y="80" textLength="8.3" lengthAdjust="spacingAndGlyphs">1,</text>
<text x="641.2" y="80" textLength="19.4" lengthAdjust="spacingAndGlyphs">——,</text>
<text x="666.8" y="80" textLength="19.9" lengthAdjust="spacingAndGlyphs">——,</text>
<text x="692.9" y="80" textLength="21.2" lengthAdjust="spacingAndGlyphs">——)</text>
</g>
<g font-size="12">
<text x="18.2" y="97" textLength="14.9" lengthAdjust="spacingAndGlyphs">Vol</text>
<text x="39.75" y="97" text-anchor="middle" font-weight="bold">·</text>
<text x="46.0" y="97" textLength="16.1" lengthAdjust="spacingAndGlyphs">SUI</text>
<text x="70.3" y="97" textLength="27.5" lengthAdjust="spacingAndGlyphs" style="fill:#089981;stroke:#089981">914.7</text>
<text x="101.8" y="97" textLength="6.7" lengthAdjust="spacingAndGlyphs" style="fill:#089981;stroke:#089981">K</text>
</g>
<g fill="#0c0e15">
<path d="M11.9 845.2 H23.8 V859.9 H17.9 V851.1 H11.9 Z"/>
<circle cx="29.2" cy="848.1" r="2.9"/>
<path d="M33.9 845.2 H41.6 L36.7 859.9 H29.1 Z"/>
</g>
<text x="49.1" y="859.9" font-size="20.2" font-weight="bold" style="fill:#0c0e15;stroke:#0c0e15;stroke-width:.15px" textLength="120.4" lengthAdjust="spacingAndGlyphs">TradingView</text>
</svg></body></html>
